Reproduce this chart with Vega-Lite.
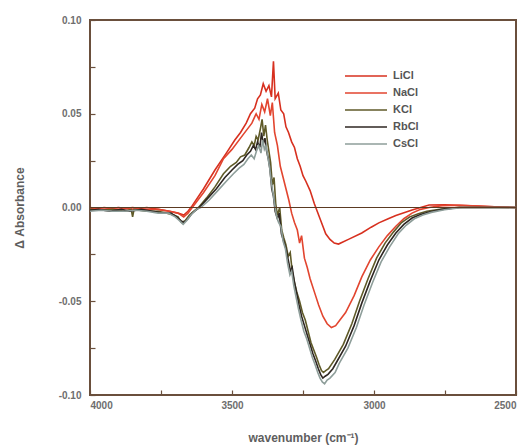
{
  "$schema": "https://vega.github.io/schema/vega-lite/v6.json",
  "width": 426,
  "height": 375,
  "autosize": {"type": "none"},
  "padding": {"left": 90, "top": 20, "right": 15, "bottom": 53},
  "background": "white",
  "config": {
    "view": {"stroke": "#6a4f3c", "strokeWidth": 2},
    "axis": {
      "grid": false,
      "domain": false,
      "tickColor": "#6a4f3c",
      "tickSize": -5,
      "tickWidth": 1.2,
      "labelFont": "Liberation Sans",
      "labelFontSize": 10,
      "labelFontWeight": "bold",
      "labelColor": "#6e6e6e",
      "titleFont": "Liberation Sans",
      "titleFontSize": 12,
      "titleFontWeight": "bold",
      "titleColor": "#5e5e5e"
    },
    "legend": {
      "labelFont": "Liberation Sans",
      "labelFontSize": 11,
      "labelFontWeight": "bold",
      "labelColor": "#555555"
    }
  },
  "layer": [
    {
      "data": {"values": [
        {"salt":"LiCl","wn":4000,"a":0.000},{"salt":"LiCl","wn":3950,"a":-0.001},{"salt":"LiCl","wn":3900,"a":0.000},{"salt":"LiCl","wn":3850,"a":-0.001},{"salt":"LiCl","wn":3800,"a":0.000},{"salt":"LiCl","wn":3760,"a":-0.001},{"salt":"LiCl","wn":3720,"a":-0.002},{"salt":"LiCl","wn":3690,"a":-0.003},{"salt":"LiCl","wn":3670,"a":-0.004},{"salt":"LiCl","wn":3655,"a":-0.002},{"salt":"LiCl","wn":3640,"a":0.001},{"salt":"LiCl","wn":3600,"a":0.010},{"salt":"LiCl","wn":3560,"a":0.020},{"salt":"LiCl","wn":3520,"a":0.029},{"salt":"LiCl","wn":3490,"a":0.036},{"salt":"LiCl","wn":3470,"a":0.040},{"salt":"LiCl","wn":3450,"a":0.045},{"salt":"LiCl","wn":3435,"a":0.050},{"salt":"LiCl","wn":3420,"a":0.053},{"salt":"LiCl","wn":3410,"a":0.058},{"salt":"LiCl","wn":3400,"a":0.060},{"salt":"LiCl","wn":3390,"a":0.066},{"salt":"LiCl","wn":3380,"a":0.062},{"salt":"LiCl","wn":3370,"a":0.065},{"salt":"LiCl","wn":3361,"a":0.059},{"salt":"LiCl","wn":3354,"a":0.078},{"salt":"LiCl","wn":3348,"a":0.058},{"salt":"LiCl","wn":3337,"a":0.061},{"salt":"LiCl","wn":3328,"a":0.052},{"salt":"LiCl","wn":3318,"a":0.050},{"salt":"LiCl","wn":3310,"a":0.043},{"salt":"LiCl","wn":3301,"a":0.040},{"salt":"LiCl","wn":3290,"a":0.035},{"salt":"LiCl","wn":3280,"a":0.032},{"salt":"LiCl","wn":3270,"a":0.026},{"salt":"LiCl","wn":3260,"a":0.022},{"salt":"LiCl","wn":3250,"a":0.017},{"salt":"LiCl","wn":3240,"a":0.014},{"salt":"LiCl","wn":3225,"a":0.009},{"salt":"LiCl","wn":3210,"a":0.002},{"salt":"LiCl","wn":3200,"a":-0.002},{"salt":"LiCl","wn":3185,"a":-0.008},{"salt":"LiCl","wn":3170,"a":-0.014},{"salt":"LiCl","wn":3155,"a":-0.017},{"salt":"LiCl","wn":3140,"a":-0.019},{"salt":"LiCl","wn":3125,"a":-0.0195},{"salt":"LiCl","wn":3090,"a":-0.017},{"salt":"LiCl","wn":3043,"a":-0.0136},{"salt":"LiCl","wn":3010,"a":-0.0105},{"salt":"LiCl","wn":2983,"a":-0.0082},{"salt":"LiCl","wn":2950,"a":-0.006},{"salt":"LiCl","wn":2923,"a":-0.0043},{"salt":"LiCl","wn":2866,"a":-0.0013},{"salt":"LiCl","wn":2806,"a":0.0013},{"salt":"LiCl","wn":2750,"a":0.0015},{"salt":"LiCl","wn":2680,"a":0.001},{"salt":"LiCl","wn":2600,"a":0.0005},{"salt":"LiCl","wn":2500,"a":0.000},

        {"salt":"NaCl","wn":4000,"a":-0.001},{"salt":"NaCl","wn":3950,"a":0.000},{"salt":"NaCl","wn":3900,"a":-0.001},{"salt":"NaCl","wn":3850,"a":0.000},{"salt":"NaCl","wn":3800,"a":-0.001},{"salt":"NaCl","wn":3760,"a":-0.001},{"salt":"NaCl","wn":3720,"a":-0.002},{"salt":"NaCl","wn":3690,"a":-0.003},{"salt":"NaCl","wn":3670,"a":-0.005},{"salt":"NaCl","wn":3655,"a":-0.003},{"salt":"NaCl","wn":3640,"a":0.000},{"salt":"NaCl","wn":3600,"a":0.008},{"salt":"NaCl","wn":3560,"a":0.017},{"salt":"NaCl","wn":3530,"a":0.026},{"salt":"NaCl","wn":3500,"a":0.031},{"salt":"NaCl","wn":3470,"a":0.037},{"salt":"NaCl","wn":3450,"a":0.041},{"salt":"NaCl","wn":3430,"a":0.045},{"salt":"NaCl","wn":3415,"a":0.050},{"salt":"NaCl","wn":3405,"a":0.047},{"salt":"NaCl","wn":3395,"a":0.055},{"salt":"NaCl","wn":3385,"a":0.051},{"salt":"NaCl","wn":3375,"a":0.058},{"salt":"NaCl","wn":3365,"a":0.049},{"salt":"NaCl","wn":3358,"a":0.056},{"salt":"NaCl","wn":3350,"a":0.040},{"salt":"NaCl","wn":3340,"a":0.033},{"salt":"NaCl","wn":3330,"a":0.022},{"salt":"NaCl","wn":3320,"a":0.016},{"salt":"NaCl","wn":3310,"a":0.010},{"salt":"NaCl","wn":3300,"a":0.004},{"salt":"NaCl","wn":3290,"a":-0.003},{"salt":"NaCl","wn":3280,"a":-0.008},{"salt":"NaCl","wn":3270,"a":-0.012},{"salt":"NaCl","wn":3262,"a":-0.019},{"salt":"NaCl","wn":3255,"a":-0.015},{"salt":"NaCl","wn":3245,"a":-0.027},{"salt":"NaCl","wn":3235,"a":-0.032},{"salt":"NaCl","wn":3225,"a":-0.038},{"salt":"NaCl","wn":3210,"a":-0.045},{"salt":"NaCl","wn":3195,"a":-0.052},{"salt":"NaCl","wn":3180,"a":-0.058},{"salt":"NaCl","wn":3165,"a":-0.062},{"salt":"NaCl","wn":3150,"a":-0.064},{"salt":"NaCl","wn":3135,"a":-0.063},{"salt":"NaCl","wn":3120,"a":-0.060},{"salt":"NaCl","wn":3100,"a":-0.056},{"salt":"NaCl","wn":3070,"a":-0.047},{"salt":"NaCl","wn":3043,"a":-0.037},{"salt":"NaCl","wn":3013,"a":-0.028},{"salt":"NaCl","wn":2983,"a":-0.021},{"salt":"NaCl","wn":2953,"a":-0.015},{"salt":"NaCl","wn":2923,"a":-0.010},{"salt":"NaCl","wn":2895,"a":-0.006},{"salt":"NaCl","wn":2866,"a":-0.003},{"salt":"NaCl","wn":2836,"a":-0.001},{"salt":"NaCl","wn":2806,"a":0.000},{"salt":"NaCl","wn":2760,"a":0.001},{"salt":"NaCl","wn":2700,"a":0.0012},{"salt":"NaCl","wn":2630,"a":0.0008},{"salt":"NaCl","wn":2560,"a":0.0002},{"salt":"NaCl","wn":2500,"a":0.000},

        {"salt":"KCl","wn":4000,"a":-0.001},{"salt":"KCl","wn":3960,"a":-0.0015},{"salt":"KCl","wn":3920,"a":-0.001},{"salt":"KCl","wn":3880,"a":-0.002},{"salt":"KCl","wn":3855,"a":-0.001},{"salt":"KCl","wn":3850,"a":-0.005},{"salt":"KCl","wn":3845,"a":-0.001},{"salt":"KCl","wn":3800,"a":-0.002},{"salt":"KCl","wn":3760,"a":-0.002},{"salt":"KCl","wn":3730,"a":-0.003},{"salt":"KCl","wn":3705,"a":-0.004},{"salt":"KCl","wn":3690,"a":-0.005},{"salt":"KCl","wn":3678,"a":-0.008},{"salt":"KCl","wn":3665,"a":-0.007},{"salt":"KCl","wn":3650,"a":-0.004},{"salt":"KCl","wn":3635,"a":-0.002},{"salt":"KCl","wn":3618,"a":0.000},{"salt":"KCl","wn":3590,"a":0.005},{"salt":"KCl","wn":3560,"a":0.011},{"salt":"KCl","wn":3530,"a":0.018},{"salt":"KCl","wn":3505,"a":0.022},{"salt":"KCl","wn":3485,"a":0.024},{"salt":"KCl","wn":3470,"a":0.027},{"salt":"KCl","wn":3455,"a":0.028},{"salt":"KCl","wn":3440,"a":0.032},{"salt":"KCl","wn":3430,"a":0.035},{"salt":"KCl","wn":3422,"a":0.033},{"salt":"KCl","wn":3415,"a":0.038},{"salt":"KCl","wn":3408,"a":0.036},{"salt":"KCl","wn":3400,"a":0.042},{"salt":"KCl","wn":3394,"a":0.047},{"salt":"KCl","wn":3388,"a":0.038},{"salt":"KCl","wn":3382,"a":0.044},{"salt":"KCl","wn":3376,"a":0.036},{"salt":"KCl","wn":3370,"a":0.030},{"salt":"KCl","wn":3364,"a":0.024},{"salt":"KCl","wn":3358,"a":0.012},{"salt":"KCl","wn":3352,"a":0.016},{"salt":"KCl","wn":3346,"a":0.002},{"salt":"KCl","wn":3340,"a":-0.004},{"salt":"KCl","wn":3332,"a":0.000},{"salt":"KCl","wn":3325,"a":-0.012},{"salt":"KCl","wn":3318,"a":-0.016},{"salt":"KCl","wn":3310,"a":-0.020},{"salt":"KCl","wn":3302,"a":-0.026},{"salt":"KCl","wn":3295,"a":-0.024},{"salt":"KCl","wn":3288,"a":-0.034},{"salt":"KCl","wn":3280,"a":-0.040},{"salt":"KCl","wn":3272,"a":-0.045},{"salt":"KCl","wn":3262,"a":-0.050},{"salt":"KCl","wn":3252,"a":-0.056},{"salt":"KCl","wn":3242,"a":-0.060},{"salt":"KCl","wn":3232,"a":-0.066},{"salt":"KCl","wn":3222,"a":-0.072},{"salt":"KCl","wn":3212,"a":-0.076},{"salt":"KCl","wn":3202,"a":-0.080},{"salt":"KCl","wn":3193,"a":-0.084},{"salt":"KCl","wn":3185,"a":-0.087},{"salt":"KCl","wn":3178,"a":-0.088},{"salt":"KCl","wn":3170,"a":-0.087},{"salt":"KCl","wn":3160,"a":-0.086},{"salt":"KCl","wn":3138,"a":-0.081},{"salt":"KCl","wn":3108,"a":-0.073},{"salt":"KCl","wn":3078,"a":-0.062},{"salt":"KCl","wn":3051,"a":-0.050},{"salt":"KCl","wn":3021,"a":-0.038},{"salt":"KCl","wn":2991,"a":-0.027},{"salt":"KCl","wn":2961,"a":-0.019},{"salt":"KCl","wn":2931,"a":-0.013},{"salt":"KCl","wn":2903,"a":-0.008},{"salt":"KCl","wn":2874,"a":-0.005},{"salt":"KCl","wn":2844,"a":-0.0033},{"salt":"KCl","wn":2814,"a":-0.002},{"salt":"KCl","wn":2768,"a":-0.001},{"salt":"KCl","wn":2708,"a":0.000},{"salt":"KCl","wn":2600,"a":0.000},{"salt":"KCl","wn":2500,"a":0.000},

        {"salt":"RbCl","wn":4000,"a":-0.0015},{"salt":"RbCl","wn":3970,"a":-0.001},{"salt":"RbCl","wn":3930,"a":-0.002},{"salt":"RbCl","wn":3890,"a":-0.001},{"salt":"RbCl","wn":3860,"a":-0.002},{"salt":"RbCl","wn":3820,"a":-0.001},{"salt":"RbCl","wn":3780,"a":-0.002},{"salt":"RbCl","wn":3745,"a":-0.003},{"salt":"RbCl","wn":3715,"a":-0.003},{"salt":"RbCl","wn":3695,"a":-0.005},{"salt":"RbCl","wn":3680,"a":-0.007},{"salt":"RbCl","wn":3670,"a":-0.008},{"salt":"RbCl","wn":3655,"a":-0.006},{"salt":"RbCl","wn":3640,"a":-0.003},{"salt":"RbCl","wn":3615,"a":0.000},{"salt":"RbCl","wn":3585,"a":0.005},{"salt":"RbCl","wn":3555,"a":0.010},{"salt":"RbCl","wn":3525,"a":0.016},{"salt":"RbCl","wn":3500,"a":0.020},{"salt":"RbCl","wn":3480,"a":0.023},{"salt":"RbCl","wn":3462,"a":0.025},{"salt":"RbCl","wn":3448,"a":0.028},{"salt":"RbCl","wn":3435,"a":0.030},{"salt":"RbCl","wn":3425,"a":0.033},{"salt":"RbCl","wn":3417,"a":0.031},{"salt":"RbCl","wn":3410,"a":0.035},{"salt":"RbCl","wn":3402,"a":0.032},{"salt":"RbCl","wn":3396,"a":0.040},{"salt":"RbCl","wn":3390,"a":0.034},{"salt":"RbCl","wn":3384,"a":0.037},{"salt":"RbCl","wn":3378,"a":0.030},{"salt":"RbCl","wn":3372,"a":0.026},{"salt":"RbCl","wn":3366,"a":0.020},{"salt":"RbCl","wn":3360,"a":0.010},{"salt":"RbCl","wn":3354,"a":0.006},{"salt":"RbCl","wn":3348,"a":-0.002},{"salt":"RbCl","wn":3340,"a":-0.006},{"salt":"RbCl","wn":3334,"a":-0.003},{"salt":"RbCl","wn":3326,"a":-0.014},{"salt":"RbCl","wn":3318,"a":-0.018},{"salt":"RbCl","wn":3310,"a":-0.022},{"salt":"RbCl","wn":3302,"a":-0.028},{"salt":"RbCl","wn":3294,"a":-0.034},{"salt":"RbCl","wn":3288,"a":-0.032},{"salt":"RbCl","wn":3280,"a":-0.040},{"salt":"RbCl","wn":3272,"a":-0.046},{"salt":"RbCl","wn":3264,"a":-0.052},{"salt":"RbCl","wn":3255,"a":-0.058},{"salt":"RbCl","wn":3245,"a":-0.063},{"salt":"RbCl","wn":3235,"a":-0.068},{"salt":"RbCl","wn":3225,"a":-0.073},{"salt":"RbCl","wn":3215,"a":-0.078},{"salt":"RbCl","wn":3205,"a":-0.082},{"salt":"RbCl","wn":3196,"a":-0.086},{"salt":"RbCl","wn":3188,"a":-0.089},{"salt":"RbCl","wn":3180,"a":-0.091},{"salt":"RbCl","wn":3172,"a":-0.090},{"salt":"RbCl","wn":3162,"a":-0.089},{"salt":"RbCl","wn":3145,"a":-0.086},{"salt":"RbCl","wn":3130,"a":-0.082},{"salt":"RbCl","wn":3100,"a":-0.074},{"salt":"RbCl","wn":3070,"a":-0.063},{"salt":"RbCl","wn":3043,"a":-0.051},{"salt":"RbCl","wn":3013,"a":-0.039},{"salt":"RbCl","wn":2983,"a":-0.028},{"salt":"RbCl","wn":2953,"a":-0.020},{"salt":"RbCl","wn":2923,"a":-0.0136},{"salt":"RbCl","wn":2895,"a":-0.009},{"salt":"RbCl","wn":2866,"a":-0.0056},{"salt":"RbCl","wn":2836,"a":-0.0037},{"salt":"RbCl","wn":2806,"a":-0.0024},{"salt":"RbCl","wn":2760,"a":-0.001},{"salt":"RbCl","wn":2700,"a":0.000},{"salt":"RbCl","wn":2600,"a":0.000},{"salt":"RbCl","wn":2500,"a":0.000},

        {"salt":"CsCl","wn":4000,"a":-0.002},{"salt":"CsCl","wn":3960,"a":-0.0015},{"salt":"CsCl","wn":3920,"a":-0.002},{"salt":"CsCl","wn":3880,"a":-0.002},{"salt":"CsCl","wn":3840,"a":-0.0015},{"salt":"CsCl","wn":3800,"a":-0.002},{"salt":"CsCl","wn":3760,"a":-0.003},{"salt":"CsCl","wn":3725,"a":-0.003},{"salt":"CsCl","wn":3700,"a":-0.005},{"salt":"CsCl","wn":3685,"a":-0.007},{"salt":"CsCl","wn":3672,"a":-0.009},{"salt":"CsCl","wn":3660,"a":-0.007},{"salt":"CsCl","wn":3645,"a":-0.004},{"salt":"CsCl","wn":3625,"a":-0.001},{"salt":"CsCl","wn":3610,"a":0.000},{"salt":"CsCl","wn":3580,"a":0.004},{"salt":"CsCl","wn":3550,"a":0.009},{"salt":"CsCl","wn":3520,"a":0.014},{"salt":"CsCl","wn":3495,"a":0.018},{"salt":"CsCl","wn":3475,"a":0.021},{"salt":"CsCl","wn":3458,"a":0.023},{"salt":"CsCl","wn":3444,"a":0.026},{"salt":"CsCl","wn":3432,"a":0.028},{"salt":"CsCl","wn":3422,"a":0.026},{"salt":"CsCl","wn":3414,"a":0.030},{"salt":"CsCl","wn":3406,"a":0.033},{"salt":"CsCl","wn":3398,"a":0.029},{"salt":"CsCl","wn":3392,"a":0.036},{"salt":"CsCl","wn":3386,"a":0.031},{"salt":"CsCl","wn":3380,"a":0.033},{"salt":"CsCl","wn":3374,"a":0.027},{"salt":"CsCl","wn":3368,"a":0.022},{"salt":"CsCl","wn":3362,"a":0.014},{"salt":"CsCl","wn":3356,"a":0.008},{"salt":"CsCl","wn":3350,"a":0.002},{"salt":"CsCl","wn":3344,"a":-0.004},{"salt":"CsCl","wn":3336,"a":-0.008},{"salt":"CsCl","wn":3328,"a":-0.010},{"salt":"CsCl","wn":3320,"a":-0.018},{"salt":"CsCl","wn":3312,"a":-0.022},{"salt":"CsCl","wn":3304,"a":-0.030},{"salt":"CsCl","wn":3296,"a":-0.036},{"salt":"CsCl","wn":3290,"a":-0.034},{"salt":"CsCl","wn":3282,"a":-0.042},{"salt":"CsCl","wn":3274,"a":-0.048},{"salt":"CsCl","wn":3266,"a":-0.054},{"salt":"CsCl","wn":3257,"a":-0.060},{"salt":"CsCl","wn":3247,"a":-0.066},{"salt":"CsCl","wn":3237,"a":-0.070},{"salt":"CsCl","wn":3227,"a":-0.075},{"salt":"CsCl","wn":3217,"a":-0.080},{"salt":"CsCl","wn":3207,"a":-0.084},{"salt":"CsCl","wn":3198,"a":-0.088},{"salt":"CsCl","wn":3190,"a":-0.091},{"salt":"CsCl","wn":3182,"a":-0.093},{"salt":"CsCl","wn":3174,"a":-0.094},{"salt":"CsCl","wn":3165,"a":-0.092},{"salt":"CsCl","wn":3155,"a":-0.091},{"salt":"CsCl","wn":3137,"a":-0.088},{"salt":"CsCl","wn":3122,"a":-0.083},{"salt":"CsCl","wn":3092,"a":-0.075},{"salt":"CsCl","wn":3062,"a":-0.064},{"salt":"CsCl","wn":3035,"a":-0.052},{"salt":"CsCl","wn":3005,"a":-0.040},{"salt":"CsCl","wn":2975,"a":-0.029},{"salt":"CsCl","wn":2945,"a":-0.021},{"salt":"CsCl","wn":2915,"a":-0.014},{"salt":"CsCl","wn":2887,"a":-0.0095},{"salt":"CsCl","wn":2858,"a":-0.006},{"salt":"CsCl","wn":2828,"a":-0.004},{"salt":"CsCl","wn":2798,"a":-0.0026},{"salt":"CsCl","wn":2752,"a":-0.0012},{"salt":"CsCl","wn":2690,"a":0.000},{"salt":"CsCl","wn":2600,"a":0.000},{"salt":"CsCl","wn":2500,"a":0.000}
      ]},
      "mark": {"type": "line", "strokeWidth": 1.6, "clip": true},
      "encoding": {
        "x": {
          "field": "wn", "type": "quantitative",
          "scale": {"domain": [2500, 4000], "reverse": true, "nice": false, "zero": false},
          "axis": {
            "title": "wavenumber (cm⁻¹)",
            "values": [4000, 3750, 3500, 3250, 3000, 2750, 2500],
            "labelExpr": "datum.value % 500 == 0 ? format(datum.value, 'd') : ''",
            "labelPadding": 10,
            "titlePadding": 22
          }
        },
        "y": {
          "field": "a", "type": "quantitative",
          "scale": {"domain": [-0.1, 0.1], "nice": false, "zero": false},
          "axis": {
            "title": "Δ Absorbance",
            "values": [-0.1, -0.075, -0.05, -0.025, 0, 0.025, 0.05, 0.075, 0.1],
            "labelExpr": "round(datum.value * 1000) % 50 == 0 ? replace(format(datum.value, '.2f'), '−', '-') : ''",
            "labelPadding": 14,
            "titleX": -64
          }
        },
        "color": {
          "field": "salt", "type": "nominal",
          "scale": {
            "domain": ["LiCl", "NaCl", "KCl", "RbCl", "CsCl"],
            "range": ["#d7301f", "#e2452f", "#5f5a28", "#2e2622", "#8e9e9a"]
          },
          "legend": {
            "title": null,
            "orient": "none",
            "legendX": 282,
            "legendY": 48,
            "padding": 0,
            "symbolType": "M-5,0H1",
            "symbolSize": 196,
            "symbolStrokeWidth": 1.5,
            "rowPadding": 4,
            "labelOffset": 5
          }
        }
      }
    },
    {
      "data": {"values": [{"zero": 0}]},
      "mark": {"type": "rule", "color": "#5b3a22", "strokeWidth": 1.2},
      "encoding": {"y": {"field": "zero", "type": "quantitative"}}
    }
  ]
}
